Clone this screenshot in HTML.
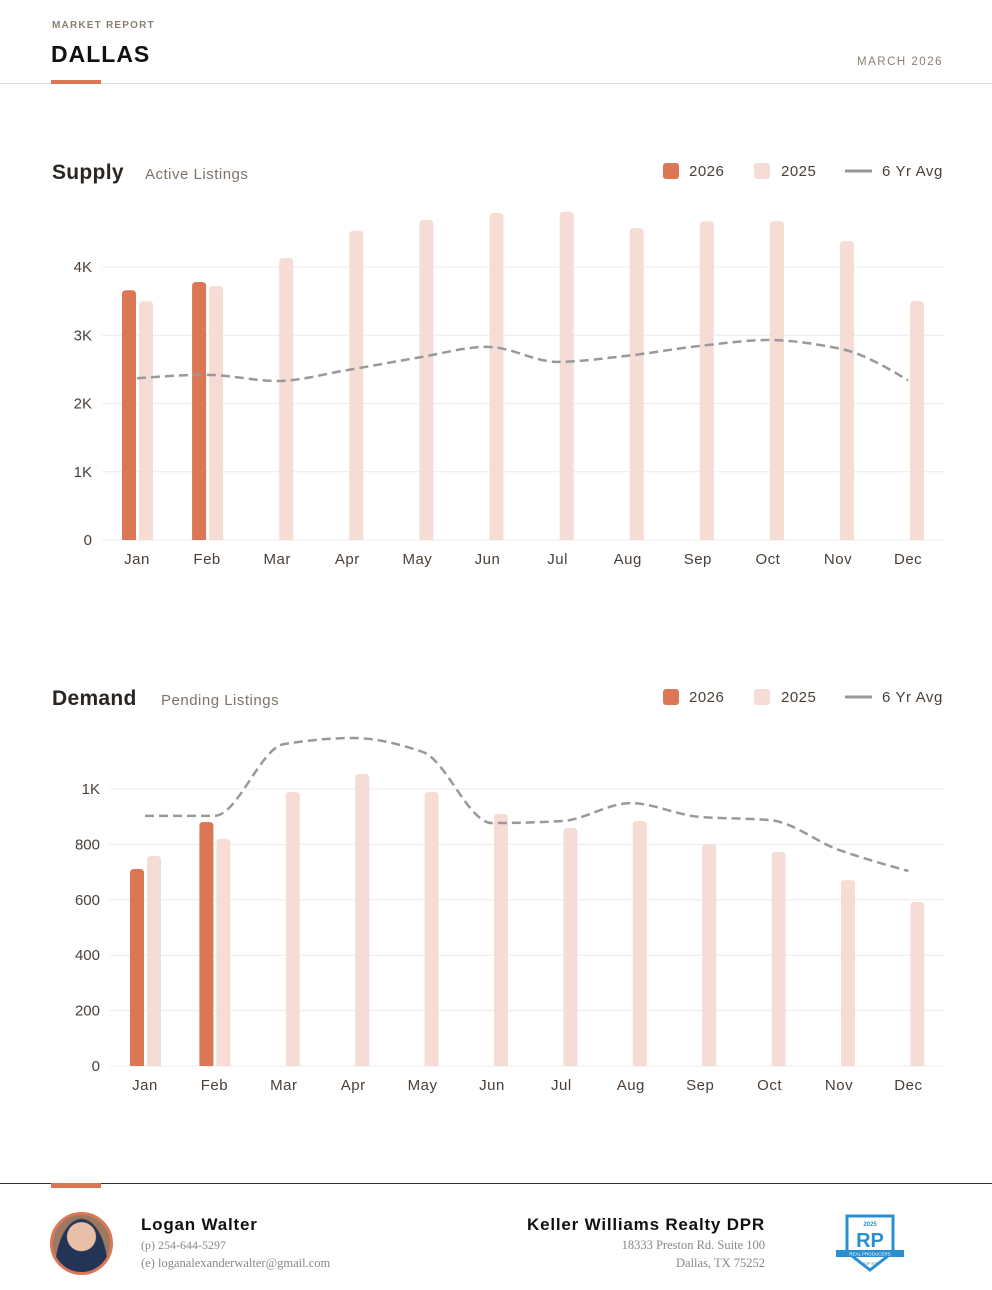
<!DOCTYPE html>
<html><head><meta charset="utf-8"><style>
html,body{margin:0;padding:0;background:#fff;}
body{width:992px;height:1290px;position:relative;overflow:hidden;font-family:"Liberation Sans",sans-serif;}
.abs{position:absolute;white-space:nowrap;}
</style></head><body>
<div class="abs" style="left:52px;top:20px;font-size:10px;font-weight:bold;letter-spacing:1.2px;color:#8a7f74;">MARKET REPORT</div>
<div class="abs" style="left:51px;top:41px;font-size:23px;font-weight:bold;color:#111;letter-spacing:1px;">DALLAS</div>
<div class="abs" style="right:49px;top:56px;font-size:11.5px;letter-spacing:1.5px;color:#8a7f74;">MARCH 2026</div>
<div class="abs" style="left:0;top:83px;width:992px;height:1px;background:#ddd;"></div>
<div class="abs" style="left:51px;top:80px;width:50px;height:4px;background:#dc7756;"></div>

<svg id="chart" width="992" height="1180" style="position:absolute;left:0;top:0"></svg>

<div class="abs" style="left:0;top:1183px;width:992px;height:1px;background:#333;"></div>
<div class="abs" style="left:51px;top:1183px;width:50px;height:5px;background:#dc7756;"></div>
<div class="abs" style="left:50px;top:1212px;width:57px;height:57px;border-radius:50%;border:3px solid #dc7756;background:radial-gradient(circle at 50% 38%,#e8c0a8 0 14px,transparent 15px),radial-gradient(ellipse at 50% 100%,#233457 0 26px,transparent 27px),#9c7a62;"></div>
<div class="abs" style="left:141px;top:1215px;font-size:17px;font-weight:bold;letter-spacing:0.8px;color:#111;">Logan Walter</div>
<div class="abs" style="left:141px;top:1238px;font-size:12px;font-family:'Liberation Serif',serif;color:#888;">(p) 254-644-5297</div>
<div class="abs" style="left:141px;top:1256px;font-size:12.5px;font-family:'Liberation Serif',serif;color:#888;">(e) loganalexanderwalter@gmail.com</div>
<div class="abs" style="right:227px;top:1215px;font-size:17px;font-weight:bold;letter-spacing:0.8px;color:#111;">Keller Williams Realty DPR</div>
<div class="abs" style="right:227px;top:1238px;font-size:12.5px;font-family:'Liberation Serif',serif;color:#888;">18333 Preston Rd. Suite 100</div>
<div class="abs" style="right:227px;top:1256px;font-size:12.5px;font-family:'Liberation Serif',serif;color:#888;">Dallas, TX 75252</div>
<svg class="abs" style="left:834px;top:1212px" width="72" height="62">
<path d="M13 4 L59 4 L59 40 L36 58 L13 40 Z" fill="#fff" stroke="#2a8fd0" stroke-width="3"/>
<text x="36" y="14" font-size="6" fill="#2a8fd0" text-anchor="middle" font-weight="bold">2025</text>
<text x="36" y="35" font-size="20" fill="#2a8fd0" text-anchor="middle" font-weight="bold">RP</text>
<rect x="2" y="38" width="68" height="7" fill="#2a8fd0"/>
<text x="36" y="43.5" font-size="4.5" fill="#fff" text-anchor="middle">REAL PRODUCERS</text>
<text x="36" y="53" font-size="4" fill="#2a8fd0" text-anchor="middle">TOP 500</text>
</svg>

<script>
const months = ["Jan","Feb","Mar","Apr","May","Jun","Jul","Aug","Sep","Oct","Nov","Dec"];
const supply2026 = [3660, 3780];
const supply2025 = [3500, 3720, 4130, 4530, 4690, 4790, 4810, 4570, 4670, 4670, 4380, 3500];
const supplyAvg = [2370, 2420, 2330, 2490, 2670, 2830, 2610, 2700, 2840, 2930, 2810, 2340];
const supplyTicks = [0, 1000, 2000, 3000, 4000];
const supplyTickLabels = ["0","1K","2K","3K","4K"];
const demand2026 = [711, 881];
const demand2025 = [758, 820, 989, 1054, 989, 910, 859, 884, 801, 773, 671, 592];
const demandAvg = [903, 903, 1162, 1184, 1134, 877, 884, 949, 899, 888, 780, 704];
const demandTicks = [0, 200, 400, 600, 800, 1000];
const demandTickLabels = ["0","200","400","600","800","1K"];

const svg = document.getElementById('chart');
const NS = 'http://www.w3.org/2000/svg';
function mk(tag, attrs, parent){const e=document.createElementNS(NS,tag);for(const k in attrs)e.setAttribute(k,attrs[k]);(parent||svg).appendChild(e);return e;}

function monotonePath(pts){
  const n=pts.length, dx=[], s=[], m=[];
  for(let i=0;i<n-1;i++){dx[i]=pts[i+1][0]-pts[i][0]; s[i]=(pts[i+1][1]-pts[i][1])/dx[i];}
  m[0]=s[0]; m[n-1]=s[n-2];
  for(let i=1;i<n-1;i++){
    if(s[i-1]*s[i]<=0) m[i]=0;
    else { const h=dx[i-1],h1=dx[i]; m[i]=3*(h+h1)/((2*h1+h)/s[i-1]+(h1+2*h)/s[i]); }
  }
  // endpoint tangents like d3
  m[0]=n>2?((3*s[0]-m[1])/2):s[0]; m[n-1]=n>2?((3*s[n-2]-m[n-2])/2):s[n-2];
  let d=`M${pts[0][0]},${pts[0][1]}`;
  for(let i=0;i<n-1;i++){
    const h=dx[i]/3;
    d+=` C${pts[i][0]+h},${pts[i][1]+m[i]*h} ${pts[i+1][0]-h},${pts[i+1][1]-m[i+1]*h} ${pts[i+1][0]},${pts[i+1][1]}`;
  }
  return d;
}

function drawChart(cfg){
  const g = mk('g',{});
  
  
  const y = v => cfg.y0 - v * cfg.scale;
  const x = i => cfg.x0 + i * cfg.step;
  let t = mk('text',{x:52,y:cfg.titleY,'font-size':21,'font-weight':'bold',fill:'#2a2520','letter-spacing':0.3},g); t.textContent=cfg.title;
   
  t = mk('text',{x:cfg.subX,y:cfg.titleY,'font-size':15,fill:'#7d7368','letter-spacing':0.5},g); t.textContent=cfg.sub;
   
  const ly = cfg.legendY;
  let r = mk('rect',{x:663,y:ly-8,width:16,height:16,rx:3,fill:'#dc7756'},g);
   
  t = mk('text',{x:689,y:ly+5,'font-size':15,fill:'#4a4038','letter-spacing':0.5},g); t.textContent='2026';
   
  r = mk('rect',{x:754,y:ly-8,width:16,height:16,rx:3,fill:'#f5dcd4'},g);
   
  t = mk('text',{x:781,y:ly+5,'font-size':15,fill:'#4a4038','letter-spacing':0.5},g); t.textContent='2025';
   
  r = mk('line',{x1:845,x2:872,y1:ly,y2:ly,stroke:'#999',"stroke-width":3},g);
   
  t = mk('text',{x:882,y:ly+5,'font-size':15,fill:'#4a4038','letter-spacing':0.6},g); t.textContent='6 Yr Avg';
   
  cfg.ticks.forEach((v,i)=>{
    const l = mk('line',{x1:cfg.gx,x2:944,y1:y(v),y2:y(v),stroke:'#ececec','stroke-width':1},g);
     
    const tt = mk('text',{x:cfg.gx-10,y:y(v)+5,'font-size':15,fill:'#4a4038','text-anchor':'end'},g);
    tt.textContent = cfg.tickLabels[i];
     
  });
  const bw = 14;
  function bar(cx, v, fill, nm){
    const top=y(v);
    const p = mk('path',{d:`M${cx-bw/2},${cfg.y0} L${cx-bw/2},${top+4} Q${cx-bw/2},${top} ${cx-bw/2+4},${top} L${cx+bw/2-4},${top} Q${cx+bw/2},${top} ${cx+bw/2},${top+4} L${cx+bw/2},${cfg.y0} Z`,fill:fill},g);
     
  }
  cfg.s2025.forEach((v,i)=>bar(x(i)+9, v, '#f5dcd4', 'bar-2025-'+months[i].toLowerCase()));
  cfg.s2026.forEach((v,i)=>bar(x(i)-8, v, '#dc7756', 'bar-2026-'+months[i].toLowerCase()));
  months.forEach((m,i)=>{
    const tt = mk('text',{x:x(i),y:cfg.y0+24,'font-size':15,fill:'#4a4038','text-anchor':'middle','letter-spacing':0.5},g);
    tt.textContent=m;
     
  });
  const pts = cfg.avg.map((v,i)=>[x(i), y(v)]);
  const ln = mk('path',{d:monotonePath(pts),fill:'none',stroke:'#999','stroke-width':2.5,'stroke-dasharray':'9 5'},g);
   
}
drawChart({name:'supply-chart',title:'Supply',sub:'Active Listings',subX:145,titleY:179,legendY:171,
  y0:540,scale:0.06825,x0:137,step:70.1,gx:102,ticks:supplyTicks,tickLabels:supplyTickLabels,
  s2026:supply2026,s2025:supply2025,avg:supplyAvg});
drawChart({name:'demand-chart',title:'Demand',sub:'Pending Listings',subX:161,titleY:705,legendY:697,
  y0:1066,scale:0.277,x0:145,step:69.4,gx:110,ticks:demandTicks,tickLabels:demandTickLabels,
  s2026:demand2026,s2025:demand2025,avg:demandAvg});
</script>
</body></html>
